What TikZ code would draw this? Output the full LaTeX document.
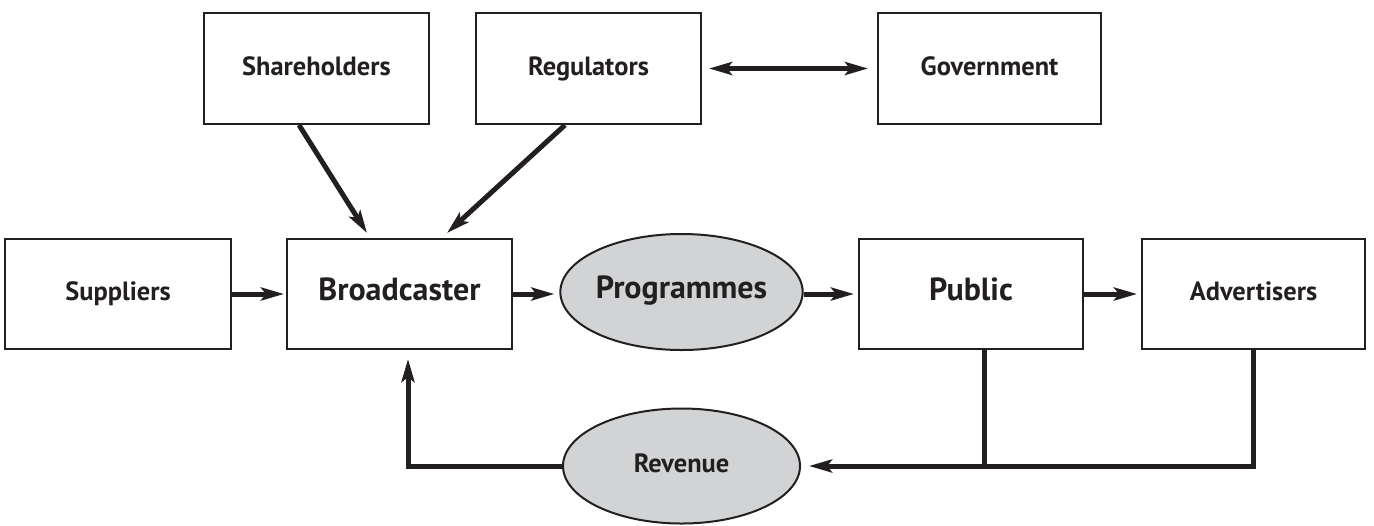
\documentclass[tikz,border=0pt]{standalone}
\usepackage{fontspec}
\setmainfont{PT Sans}
\usetikzlibrary{arrows.meta,shapes.geometric}
\definecolor{ink}{RGB}{35,31,32}
\definecolor{ovalgrey}{RGB}{209,211,212}
\tikzset{
  box/.style={draw=ink,line width=1pt,fill=white,rectangle,minimum width=112.5pt,minimum height=55.5pt,inner sep=0pt,text=ink,text height=0.68em,text depth=0pt,font=\fontsize{13.2}{15}\selectfont\bfseries},
  bigtext/.style={font=\fontsize{16}{18}\selectfont\bfseries},
  oval/.style={draw=ink,line width=1pt,fill=ovalgrey,ellipse,minimum width=118.5pt,minimum height=58pt,inner sep=0pt,text=ink,text height=0.68em,text depth=0pt,font=\fontsize{13.2}{15}\selectfont\bfseries},
  arr/.style={draw=ink,line width=2.5pt,-{Stealth[length=11.5pt,width=6.5pt,inset=2.5pt]}},
  darr/.style={draw=ink,line width=2.5pt,{Stealth[length=11.5pt,width=6.5pt,inset=2.5pt]}-{Stealth[length=11.5pt,width=6.5pt,inset=2.5pt]}},
  plainline/.style={draw=ink,line width=2.5pt}
}
\begin{document}
\begin{tikzpicture}[x=0.5pt,y=-0.5pt]
\useasboundingbox (0,0) rectangle (1374,525);
% top row
\node[box] (sh) at (316.5,68.5) {Shareholders};
\node[box] (reg) at (588.5,68.5) {Regulators};
\node[box,minimum width=111.5pt] (gov) at (989.5,68.5) {Government};
% middle row
\node[box,minimum width=113pt,minimum height=55pt] (sup) at (118,294) {Suppliers};
\node[box,bigtext,minimum height=55pt] (bro) at (399.5,294) {Broadcaster};
\node[oval,bigtext] (prog) at (681.5,292) {Programmes};
\node[box,bigtext,minimum width=112pt,minimum height=55pt] (pub) at (971,294) {Public};
\node[box,minimum width=111.5pt,minimum height=55pt] (adv) at (1253.5,294) {Advertisers};
% bottom
\node[oval,minimum height=57.5pt] (rev) at (681.5,466) {Revenue};
% junction points
\coordinate (pj) at (984,466);
% connectors
\draw[arr] ([xshift=-8.75pt]sh.south) -- ([xshift=-16.25pt,yshift=2.5pt]bro.north);
\draw[arr] ([xshift=-11.75pt]reg.south) -- ([xshift=23.75pt,yshift=2.5pt]bro.north);
\draw[darr,shorten <=3.5pt,shorten >=4.5pt] (reg.east) -- (gov.west);
\draw[arr,shorten >=1pt] (sup.east) -- (sup.east -| bro.west);
\draw[arr,shorten >=2.5pt] (bro.east) -- (bro.east -| prog.west);
\draw[arr,shorten >=2pt] (prog.east |- pub.west) -- (pub.west);
\draw[arr,shorten >=2pt] (pub.east) -- (adv.west);
\draw[plainline] (pub.south -| pj) -- (pj);
\draw[arr,shorten >=4pt,line join=miter] (adv.south) |- (rev.east);
\draw[arr,shorten >=4.5pt,line join=miter] (rev.west) -| ([xshift=4.25pt]bro.south);
\end{tikzpicture}
\end{document}
